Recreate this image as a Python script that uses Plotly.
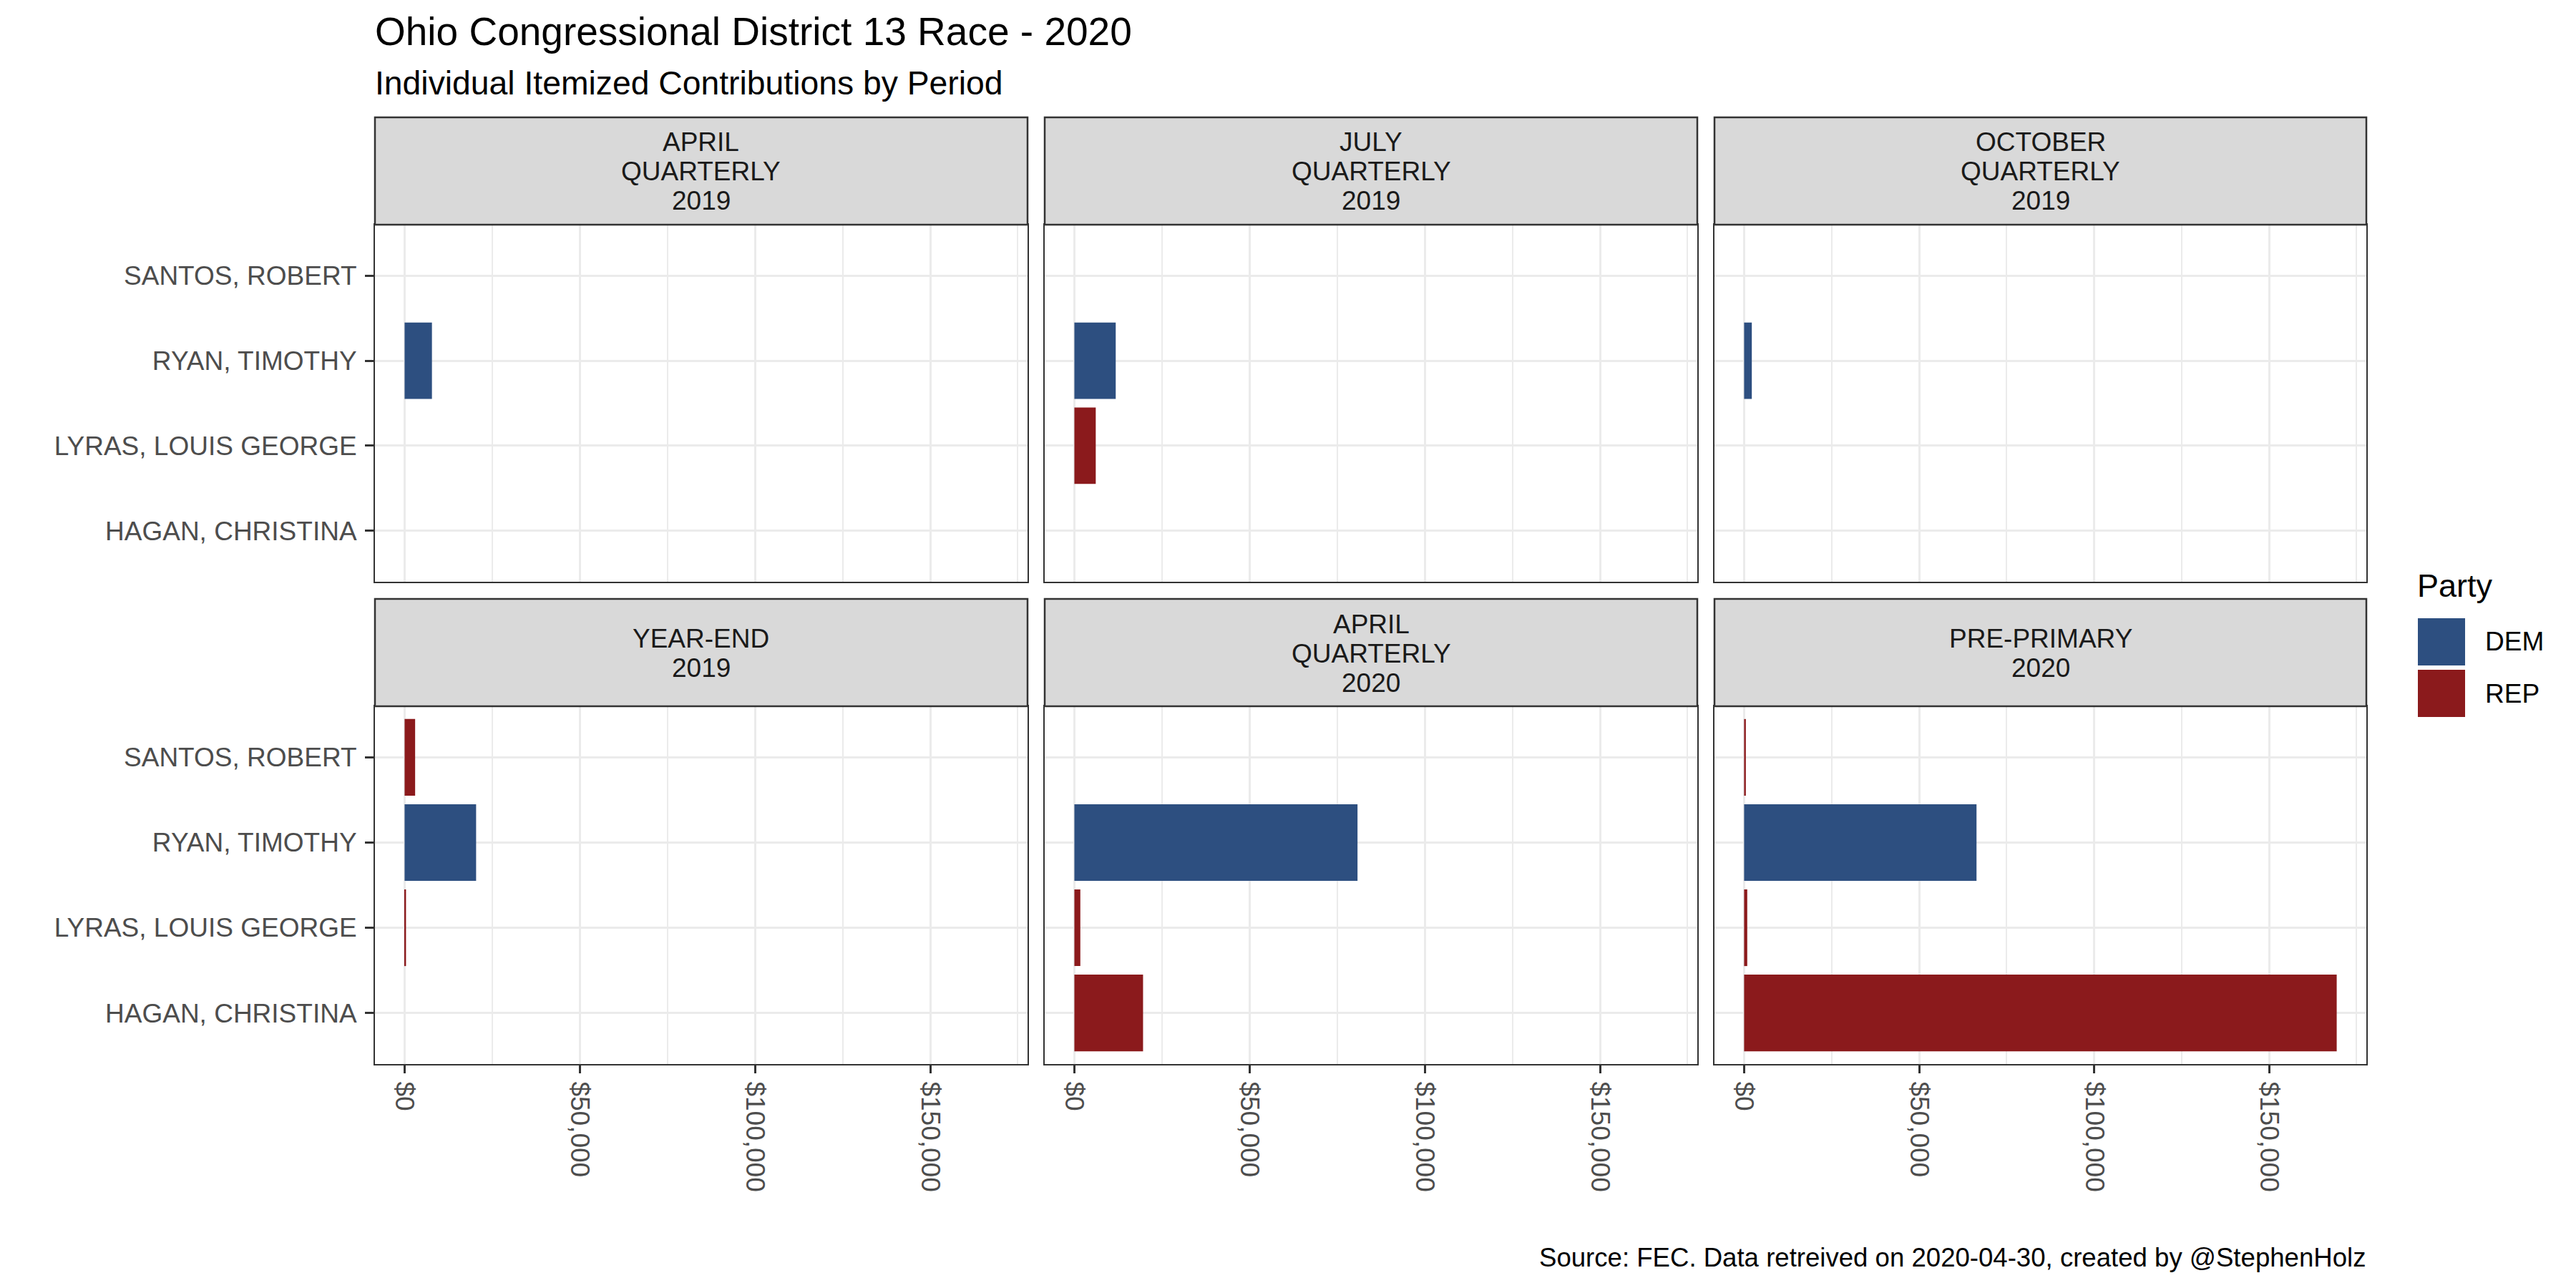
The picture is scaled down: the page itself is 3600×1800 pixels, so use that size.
import plotly.graph_objects as go

W, H = 3600, 1800

# ---------------- data ----------------
periods = ["APRIL\nQUARTERLY\n2019", "JULY\nQUARTERLY\n2019", "OCTOBER\nQUARTERLY\n2019",
           "YEAR-END\n2019", "APRIL\nQUARTERLY\n2020", "PRE-PRIMARY\n2020"]
candidates = ["HAGAN, CHRISTINA", "LYRAS, LOUIS GEORGE", "RYAN, TIMOTHY", "SANTOS, ROBERT"]
candidate_party = ["REP", "REP", "DEM", "REP"]
# itemized individual contributions per period (None = none reported)
hagan = [None, None, None, None, 19600, 169300]
lyras = [None, 6100, None, 400, 1700, 900]
ryan = [7800, 11800, 2200, 20400, 80800, 66400]
santos = [None, None, None, 3000, None, 500]
values_by_candidate = [hagan, lyras, ryan, santos]

parties = ["DEM", "REP"]
party_colors = ["#2D4F80", "#8B1A1C"]

x_tick_vals = [0, 50000, 100000, 150000]
x_tick_text = ["$0", "$50,000", "$100,000", "$150,000"]
x_minor_vals = [25000, 75000, 125000, 175000]

title = "Ohio Congressional District 13 Race - 2020"
subtitle = "Individual Itemized Contributions by Period"
caption = "Source: FEC. Data retreived on 2020-04-30, created by @StephenHolz"
legend_title = "Party"

# ---------------- layout geometry (pixels) ----------------
col_x = [(524, 1436), (1460, 2372), (2396, 3307)]
row_panel = [(314, 813), (987, 1487)]
row_strip = [(164, 314), (837, 987)]

FONT = "Liberation Sans, Arial, sans-serif"
BORDER = "#333333"
GRID = "#EBEBEB"


def fx(p):
    return p / W


def fy(p):
    return 1 - p / H


vmax = max(v for vals in values_by_candidate for v in vals if v is not None)
x_range = [-0.05 * vmax, 1.05 * vmax]

fig = go.Figure()
layout = dict(
    width=W, height=H, autosize=False,
    margin=dict(l=0, r=0, t=0, b=0),
    paper_bgcolor="white", plot_bgcolor="white",
    showlegend=False,
    font=dict(family=FONT, size=37, color="#4D4D4D"),
    bargap=0.1,
)
shapes = []
annotations = []

for i, period in enumerate(periods):
    r, c = divmod(i, 3)
    k = i + 1
    xa = "x" if k == 1 else f"x{k}"
    ya = "y" if k == 1 else f"y{k}"
    for party, color in zip(parties, party_colors):
        xs, ys = [], []
        for cand, cp, vals in zip(candidates, candidate_party, values_by_candidate):
            if cp == party and vals[i] is not None:
                xs.append(vals[i])
                ys.append(cand)
        if xs:
            fig.add_trace(go.Bar(x=xs, y=ys, orientation="h", width=0.9,
                                 marker=dict(color=color, line=dict(width=0)),
                                 xaxis=xa, yaxis=ya, name=party, showlegend=False))
    bottom = (r == 1)
    left = (c == 0)
    layout[f"xaxis{'' if k == 1 else k}"] = dict(
        domain=[fx(col_x[c][0]), fx(col_x[c][1])], anchor=ya,
        range=x_range, fixedrange=True,
        tickmode="array", tickvals=x_tick_vals, ticktext=x_tick_text,
        showticklabels=bottom, ticks="outside" if bottom else "",
        ticklen=11, tickwidth=3, tickcolor=BORDER, tickangle=90,
        tickfont=dict(family=FONT, size=37, color="#4D4D4D"),
        ticklabelstandoff=4,
        showgrid=True, gridcolor=GRID, gridwidth=3,
        minor=dict(tickmode="array", tickvals=x_minor_vals, showgrid=True,
                   gridcolor=GRID, gridwidth=1.5, ticks=""),
        zeroline=False, showline=True, mirror=True, linecolor=BORDER, linewidth=2,
    )
    layout[f"yaxis{'' if k == 1 else k}"] = dict(
        domain=[fy(row_panel[r][1]), fy(row_panel[r][0])], anchor=xa,
        type="category", categoryorder="array", categoryarray=candidates,
        range=[-0.6, len(candidates) - 0.4], fixedrange=True,
        showticklabels=left, ticks="outside" if left else "",
        ticklen=12, tickwidth=3, tickcolor=BORDER,
        tickfont=dict(family=FONT, size=37, color="#4D4D4D"),
        ticklabelstandoff=4,
        showgrid=True, gridcolor=GRID, gridwidth=3,
        zeroline=False, showline=True, mirror=True, linecolor=BORDER, linewidth=2,
    )
    # strip
    x0, x1 = col_x[c]
    s0, s1 = row_strip[r]
    shapes.append(dict(type="rect", xref="paper", yref="paper",
                       x0=fx(x0), x1=fx(x1), y0=fy(s1), y1=fy(s0),
                       fillcolor="#D9D9D9", line=dict(color=BORDER, width=2.5), layer="above"))
    lines = period.split("\n")
    yc = (s0 + s1) / 2 + 1
    n = len(lines)
    for j, line in enumerate(lines):
        yy = yc + (j - (n - 1) / 2) * 41
        annotations.append(dict(text=line, xref="paper", yref="paper",
                                x=fx((x0 + x1) / 2), y=fy(yy), xanchor="center", yanchor="middle",
                                showarrow=False, font=dict(family=FONT, size=37, color="#1A1A1A")))

# titles
annotations.append(dict(text=title, xref="paper", yref="paper", x=fx(522), y=fy(44),
                        xanchor="left", yanchor="middle", showarrow=False,
                        font=dict(family=FONT, size=55, color="black")))
annotations.append(dict(text=subtitle, xref="paper", yref="paper", x=fx(522), y=fy(115.5),
                        xanchor="left", yanchor="middle", showarrow=False,
                        font=dict(family=FONT, size=46.3, color="black")))
annotations.append(dict(text=caption, xref="paper", yref="paper", x=fx(3308), y=fy(1757.5),
                        xanchor="right", yanchor="middle", showarrow=False,
                        font=dict(family=FONT, size=36.6, color="black")))

# legend (drawn manually to match key size)
annotations.append(dict(text=legend_title, xref="paper", yref="paper", x=fx(3376), y=fy(818.5),
                        xanchor="left", yanchor="middle", showarrow=False,
                        font=dict(family=FONT, size=45, color="black")))
for j, (party, color) in enumerate(zip(parties, party_colors)):
    top = 864 + j * 72
    shapes.append(dict(type="rect", xref="paper", yref="paper",
                       x0=fx(3379), x1=fx(3445), y0=fy(top + 66), y1=fy(top),
                       fillcolor=color, line=dict(width=0)))
    annotations.append(dict(text=party, xref="paper", yref="paper", x=fx(3471), y=fy(top + 33),
                            xanchor="left", yanchor="middle", showarrow=False,
                            font=dict(family=FONT, size=37, color="black")))

layout["shapes"] = shapes
layout["annotations"] = annotations
fig.update_layout(**layout)
fig.write_html("out.html", config={"displayModeBar": False},
               post_script="document.body.style.margin='0px';document.body.style.padding='0px';")
